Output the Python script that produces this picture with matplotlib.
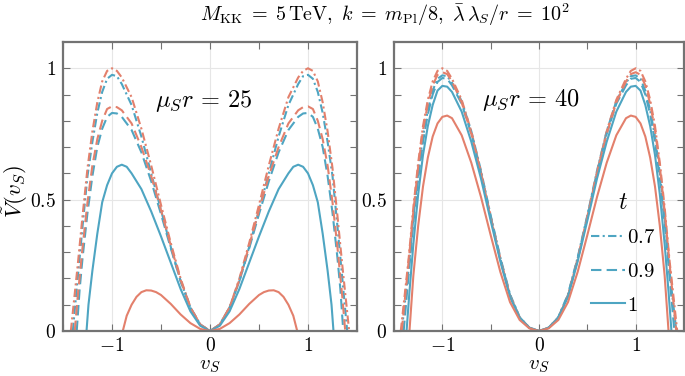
import numpy as np
import matplotlib
matplotlib.use("Agg")
import matplotlib.pyplot as plt
from matplotlib.ticker import FixedLocator, FuncFormatter

plt.rcParams['mathtext.fontset'] = 'cm'
plt.rcParams['font.family'] = 'serif'
plt.rcParams['font.serif'] = ['DejaVu Serif']

# values, v_S >= 0 only (curves are symmetric)
# mu_S r = 25
v25_b07 = [0, .1, .2, .3, .4, .5, .6, .7, .8, .9, .95, 1.0, 1.05, 1.1, 1.15, 1.2, 1.25, 1.3, 1.35, 1.40]
V25_b07 = [0, .025, .09, .19, .32, .46, .60, .74, .86, .94, .97, .975, .96, .91, .83, .72, .59, .40, .20, 0]
v25_r07 = [0, .1, .2, .3, .4, .5, .6, .7, .8, .9, .95, 1.0, 1.05, 1.1, 1.15, 1.2, 1.25, 1.3, 1.35, 1.42]
V25_r07 = [0, .025, .09, .20, .335, .48, .63, .77, .89, .965, .99, 1.0, .99, .95, .87, .76, .62, .44, .25, 0]
v25_b09 = [0, .1, .2, .3, .4, .5, .6, .7, .8, .9, .95, 1.0, 1.05, 1.1, 1.15, 1.2, 1.25, 1.3, 1.33, 1.36]
V25_b09 = [0, .024, .088, .19, .315, .445, .57, .68, .765, .815, .828, .83, .815, .77, .70, .59, .45, .28, .16, 0]
v25_r09 = [0, .1, .2, .3, .4, .5, .6, .7, .8, .9, .95, 1.0, 1.05, 1.1, 1.15, 1.2, 1.25, 1.3, 1.35, 1.38]
V25_r09 = [0, .025, .09, .195, .325, .46, .59, .70, .79, .84, .852, .855, .845, .80, .73, .63, .49, .32, .13, 0]
v25_b10 = [0, .1, .2, .3, .4, .5, .6, .7, .8, .85, .9, .95, 1.0, 1.05, 1.1, 1.15, 1.2, 1.24, 1.26]
V25_b10 = [0, .02, .075, .16, .26, .36, .455, .54, .60, .625, .633, .625, .60, .555, .49, .37, .23, .10, 0]
v25_r10 = [0, .1, .2, .3, .4, .5, .55, .6, .65, .7, .75, .8, .85, .89]
V25_r10 = [0, .008, .03, .063, .103, .137, .148, .154, .155, .148, .13, .10, .058, 0]

# mu_S r = 40
v40_b07 = [0, .1, .2, .3, .4, .5, .6, .7, .8, .9, .95, 1.0, 1.05, 1.1, 1.15, 1.2, 1.25, 1.3, 1.35, 1.42]
V40_b07 = [0, .013, .053, .14, .28, .44, .61, .76, .875, .945, .97, .973, .96, .915, .84, .74, .60, .43, .23, 0]
v40_r07 = [0, .1, .2, .3, .4, .5, .6, .7, .8, .9, .95, 1.0, 1.05, 1.1, 1.15, 1.2, 1.25, 1.3, 1.35, 1.43]
V40_r07 = [0, .012, .05, .135, .275, .435, .605, .76, .88, .96, .99, 1.0, .99, .95, .88, .78, .64, .47, .27, 0]
v40_b09 = [0, .1, .2, .3, .4, .5, .6, .7, .8, .9, .95, 1.0, 1.05, 1.1, 1.15, 1.2, 1.25, 1.3, 1.35, 1.40]
V40_b09 = [0, .013, .052, .137, .275, .435, .60, .75, .865, .935, .96, .963, .948, .90, .825, .72, .58, .41, .21, 0]
v40_r09 = [0, .1, .2, .3, .4, .5, .6, .7, .8, .9, .95, 1.0, 1.05, 1.1, 1.15, 1.2, 1.25, 1.3, 1.35, 1.42]
V40_r09 = [0, .012, .05, .133, .27, .43, .60, .75, .87, .95, .978, .985, .975, .935, .865, .765, .625, .455, .26, 0]
v40_b10 = [0, .1, .2, .3, .4, .5, .6, .7, .8, .9, .95, 1.0, 1.05, 1.1, 1.15, 1.2, 1.25, 1.3, 1.34, 1.37]
V40_b10 = [0, .012, .05, .13, .265, .42, .58, .72, .835, .91, .93, .933, .915, .86, .78, .67, .52, .33, .15, 0]
v40_r10 = [0, .1, .2, .3, .4, .5, .6, .7, .8, .9, .95, 1.0, 1.05, 1.1, 1.15, 1.2, 1.25, 1.3, 1.34]
V40_r10 = [0, .01, .042, .11, .225, .365, .51, .64, .745, .81, .82, .815, .79, .74, .66, .55, .40, .21, 0]

t_labels = ['$0.7$', '$0.9$', '$1$']
panel_labels = [r'$\mu_S r\, =\, 25$', r'$\mu_S r\, =\, 40$']

blue = '#4ea5c2'
red = '#e3806c'
styles = [(0, (4, 1.6, 1, 1.6)), (0, (5, 2.5)), '-']


def mirror(v, V):
    v = np.asarray(v)
    V = np.asarray(V)
    return np.concatenate([-v[::-1], v[1:]]), np.concatenate([V[::-1], V[1:]])


fig = plt.figure(figsize=(6.85, 3.76), dpi=100)
ax1 = fig.add_axes([63/685, 45/376, 294/685, 289/376])
ax2 = fig.add_axes([394/685, 45/376, 290/685, 289/376])

panels = [
    (ax1, [(v25_b07, V25_b07), (v25_b09, V25_b09), (v25_b10, V25_b10)],
          [(v25_r07, V25_r07), (v25_r09, V25_r09), (v25_r10, V25_r10)], -0.07, 0.875),
    (ax2, [(v40_b07, V40_b07), (v40_b09, V40_b09), (v40_b10, V40_b10)],
          [(v40_r07, V40_r07), (v40_r09, V40_r09), (v40_r10, V40_r10)], -0.09, 0.88),
]

fmt = FuncFormatter(lambda x, p: '$%g$' % x)
for i, (ax, blues, reds, tx, ty) in enumerate(panels):
    for j in range(3):
        x, y = mirror(*blues[j])
        ax.plot(x, y, color=blue, ls=styles[j], lw=1.5, label=t_labels[j])
        x, y = mirror(*reds[j])
        ax.plot(x, y, color=red, ls=styles[j], lw=1.5)
    ax.set_xlim(-1.5, 1.5)
    ax.set_ylim(0, 1.1)
    ax.xaxis.set_major_locator(FixedLocator([-1, 0, 1]))
    ax.xaxis.set_minor_locator(FixedLocator([-1.5, -0.5, 0.5, 1.5]))
    ax.yaxis.set_major_locator(FixedLocator([0, 0.5, 1]))
    ax.yaxis.set_minor_locator(FixedLocator([0.1, 0.2, 0.3, 0.4, 0.6, 0.7, 0.8, 0.9]))
    ax.xaxis.set_major_formatter(fmt)
    ax.yaxis.set_major_formatter(fmt)
    ax.tick_params(which='both', direction='in', top=True, right=True,
                   length=5, width=0.8, color='0.45', labelsize=14)
    ax.tick_params(axis='x', pad=4)
    ax.tick_params(axis='y', pad=5)
    ax.grid(True, which='major', color='0.9', lw=0.8)
    ax.set_axisbelow(True)
    for s in ax.spines.values():
        s.set_color('0.45')
        s.set_linewidth(1.6)
    ax.text(tx, ty, panel_labels[i], fontsize=17.5, ha='center', va='center')
    ax.text(0.5, -0.12, r'$v_S$', fontsize=15, ha='center', va='center',
            transform=ax.transAxes)

leg = ax2.legend(loc='upper left', bbox_to_anchor=(0.68, 0.485), frameon=False,
                 title=r'$t$', title_fontsize=17, fontsize=15,
                 handlelength=1.6, handletextpad=0.1, labelspacing=0.7,
                 borderpad=0, borderaxespad=0)

fig.text(0.022, 0.49, r'$\tilde{V}(v_S)$', fontsize=16.5, rotation=90,
         ha='center', va='center')
fig.text(0.562, 0.962,
         r'$M_{\rm KK}\; =\; 5\,{\rm TeV},\ k\; =\; m_{\rm Pl}/8,\ \bar\lambda\,\lambda_S/r\; =\; 10^2$',
         fontsize=14.5, ha='center', va='center')

fig.savefig('out.png', dpi=100)
